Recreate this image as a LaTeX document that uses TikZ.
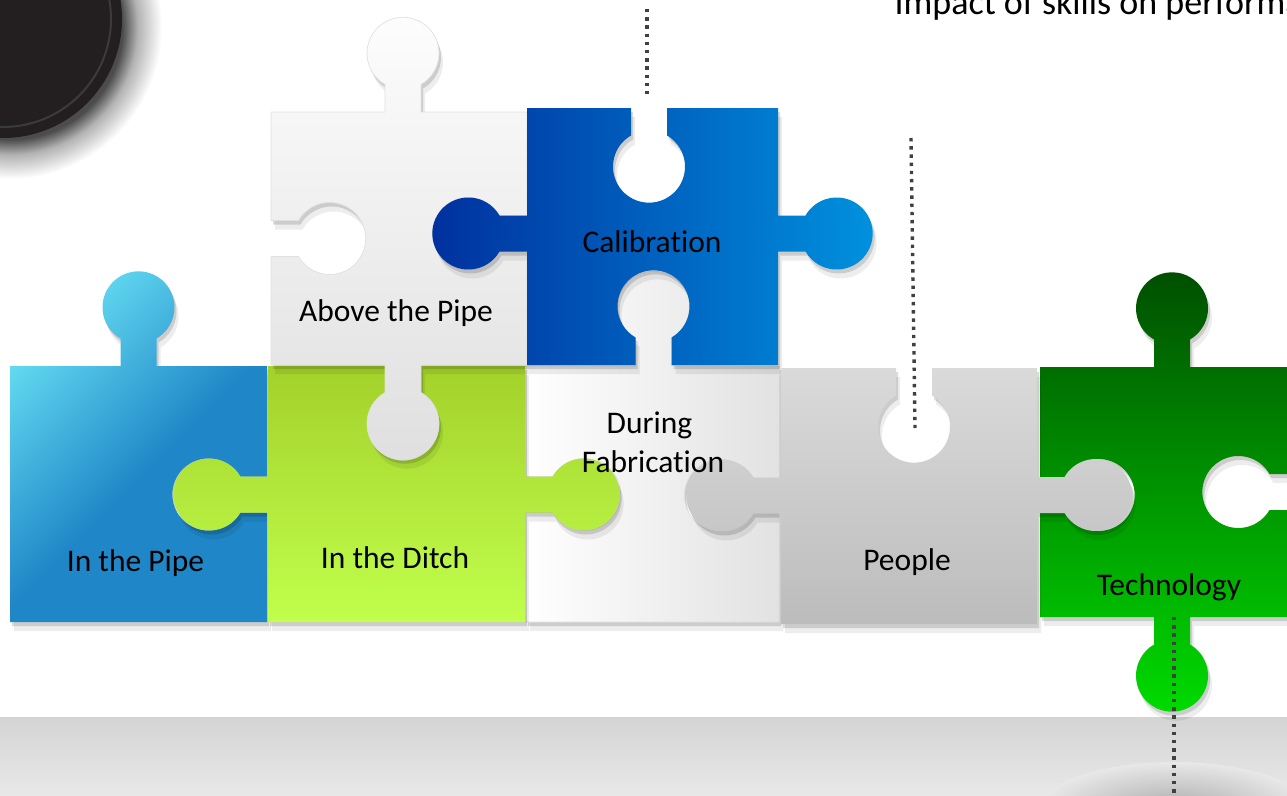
\documentclass[tikz,border=0pt]{standalone}
\usepackage{fontspec}
\setmainfont{Carlito}[Ligatures=NoCommon]
\usetikzlibrary{calc}

\definecolor{pipeA}{HTML}{63DAF1}
\definecolor{pipeB}{HTML}{1F87C7}
\definecolor{ditchA}{HTML}{A3D12B}
\definecolor{ditchB}{HTML}{C1FF4C}
\definecolor{aboveA}{HTML}{FDFDFD}
\definecolor{aboveB}{HTML}{DFDFDF}
\definecolor{calA}{HTML}{00309E}
\definecolor{calB}{HTML}{0092DE}
\definecolor{fabB}{HTML}{E2E2E2}
\definecolor{peopleA}{HTML}{DADADA}
\definecolor{peopleB}{HTML}{BCBCBC}
\definecolor{techA}{HTML}{004E00}
\definecolor{techB}{HTML}{00DC00}
\definecolor{bandA}{HTML}{D4D4D4}
\definecolor{bandB}{HTML}{E8E8E8}
\definecolor{floorC}{HTML}{A6A6A6}
\definecolor{discfill}{HTML}{231F20}
\definecolor{discring}{HTML}{3B3A3D}
\definecolor{dotcol}{HTML}{404040}

\pgfdeclarehorizontalshading{pipeshading}{100bp}{color(0bp)=(pipeA); color(26bp)=(pipeA); color(54bp)=(pipeB); color(100bp)=(pipeB)}
\pgfdeclareradialshading{discshadow}{\pgfpoint{0bp}{0bp}}{color(0bp)=(black!75); color(18.5bp)=(black!70); color(21bp)=(black!30); color(25bp)=(white); color(50bp)=(white)}
\pgfdeclareradialshading{floorshadow}{\pgfpoint{0bp}{0bp}}{color(0bp)=(floorC); color(10bp)=(floorC!55!bandB); color(25bp)=(bandB); color(50bp)=(bandB)}

% knob on an edge: (#1,#2) middle of the edge, #3 outward angle, #4 = 1 tab / -1 hole
\newcommand\knob[4]{%
  -- ({#1-18*cos(#3+90)},{#2-18*sin(#3+90)})
  -- ({#1-18*cos(#3+90)+(#4)*27.5*cos(#3)},{#2-18*sin(#3+90)+(#4)*27.5*sin(#3)})
  arc[start angle={#3-90-(#4)*60}, delta angle={(#4)*300}, radius=36]
  -- ({#1+18*cos(#3+90)},{#2+18*sin(#3+90)})}

\tikzset{
  piece/.style={preaction={fill=black,fill opacity=.14,transform canvas={shift={(2,4)}}},
                preaction={fill=black,fill opacity=.07,transform canvas={shift={(4,9)}}}},
  pale/.style={draw=black!12, line width=.7pt},
  piecetext/.style={anchor=base, font=\fontsize{31.5}{38}\selectfont},
  dotline/.style={draw=dotcol, line width=3.4pt, dash pattern=on 3.4pt off 4.8pt}
}

\begin{document}
\begin{tikzpicture}[x=1pt,y=-1pt]
  \useasboundingbox (0,0) rectangle (1287,795);
  \clip (0,0) rectangle (1287,795);

  % disc in the corner
  \shade[shading=discshadow] (10,27) circle (152);
  \fill[discfill] (3,19) circle (119);
  \draw[discring, line width=2pt] (3,19) circle (108);

  % floor
  \shade[top color=bandA, bottom color=bandB] (0,717) rectangle (1287,795);
  \shade[shading=floorshadow] (1174,810) ellipse (135 and 48);

  % pieces
  \shade[piece, shading=pipeshading, shading angle=-45]
    (10,366) \knob{138.5}{366}{270}{1} -- (267,366) \knob{267}{494.5}{0}{-1}
    -- (267,622) -- (10,622) -- cycle;
  \shade[piece, pale, left color=white, right color=fabB]
    (526,366) \knob{653.5}{366}{270}{1} -- (779,366) \knob{779}{495.5}{0}{-1}
    -- (779,622) -- (526,622) \knob{526}{494.5}{180}{-1} -- cycle;
  \shade[piece, top color=ditchA, bottom color=ditchB]
    (268,366) \knob{403}{366}{270}{-1} -- (525,366) \knob{525}{494.5}{0}{1}
    -- (525,622) -- (268,622) \knob{268}{494.5}{180}{1} -- cycle;
  \shade[piece, pale, top color=aboveA, bottom color=aboveB]
    (271,112) \knob{403}{112}{270}{1} -- (527,112) \knob{527}{233.5}{0}{-1}
    -- (527,365) \knob{403}{365}{90}{1} -- (271,365) \knob{271}{238.5}{180}{-1} -- cycle;
  \shade[piece, left color=calA, right color=calB]
    (527,108) \knob{649}{108}{270}{-1} -- (778,108) \knob{778}{233.5}{0}{1}
    -- (778,365) \knob{653.5}{365}{90}{-1} -- (527,365) \knob{527}{233.5}{180}{1} -- cycle;
  \shade[piece, top color=techA, bottom color=techB]
    (1040,367) \knob{1172}{367}{270}{1} -- (1297,367) \knob{1297}{492}{0}{-1}
    -- (1297,617) \knob{1172}{617}{90}{1} -- (1040,617) \knob{1040}{495}{180}{-1} -- cycle;
  \shade[piece, top color=peopleA, bottom color=peopleB]
    (781,368) \knob{914}{368}{270}{-1} -- (1037,368) \knob{1037}{495}{0}{1}
    -- (1037,624) -- (781,624) \knob{781}{495.5}{180}{1} -- cycle;

  % texts
  \node[piecetext] (pipe) at (135.5,571) {In the Pipe};
  \node[piecetext] (ditch) at (395,568) {In the Ditch};
  \node[piecetext] (during) at (649.5,433) {During};
  \node[piecetext] (fabrication) at (653,472) {Fabrication};
  \node[piecetext] (people) at (907,570) {People};
  \node[piecetext] (technology) at (1169,595) {Technology};
  \node[piecetext] (above) at (396,321) {Above the Pipe};
  \node[piecetext] (calibration) at (652,252) {Calibration};
  \node[anchor=base west, font=\fontsize{36}{43}\selectfont] (impact) at (891,14) {Impact of skills on performance};

  % dotted leaders
  \coordinate (calTop) at (647,9);
  \coordinate (calEnd) at (647,97);
  \coordinate (peoTop) at (911,138);
  \coordinate (peoEnd) at (915,428);
  \coordinate (tecTop) at (1174,617);
  \coordinate (tecEnd) at (1174,800);
  \draw[dotline] (calTop) -- (calEnd);
  \draw[dotline] (peoTop) -- (peoEnd);
  \draw[dotline] (tecTop) -- (tecEnd);
\end{tikzpicture}
\end{document}
